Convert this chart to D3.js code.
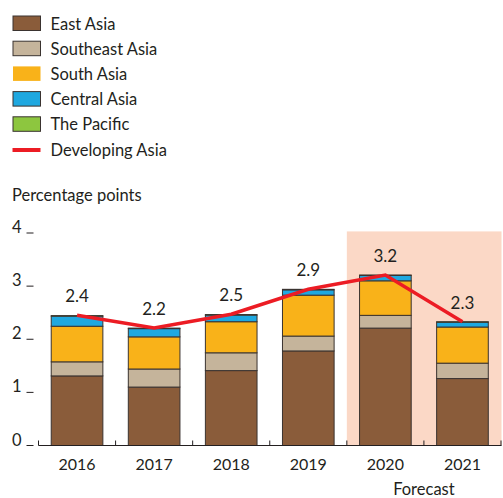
<!DOCTYPE html>
<html>
<head>
<meta charset="utf-8">
<script src="https://cdn.jsdelivr.net/npm/d3@7"></script>
<style>
  body { margin: 0; background: #fff; }
  svg text { font-family: Lato, "Open Sans", sans-serif; fill: #231f20; }
</style>
</head>
<body>
<div id="chart"></div>
<script>
const years = ["2016", "2017", "2018", "2019", "2020", "2021"];
const eastAsia = [1.31, 1.10, 1.41, 1.78, 2.21, 1.26];
const southeastAsia = [0.265, 0.34, 0.335, 0.28, 0.24, 0.29];
const southAsia = [0.67, 0.605, 0.585, 0.77, 0.65, 0.68];
const centralAsia = [0.19, 0.155, 0.125, 0.10, 0.10, 0.09];
const pacific = [0.01, 0.01, 0.01, 0.01, 0.01, 0.01];
const developingAsia = [2.45, 2.21, 2.47, 2.94, 3.21, 2.33];
const lineLabels = ["2.4", "2.2", "2.5", "2.9", "3.2", "2.3"];
const yTicks = [0, 1, 2, 3, 4];
const forecastYears = ["2020", "2021"];

const series = [
  { name: "East Asia", values: eastAsia, color: "#8a5c3a" },
  { name: "Southeast Asia", values: southeastAsia, color: "#c5b49b" },
  { name: "South Asia", values: southAsia, color: "#f9b219" },
  { name: "Central Asia", values: centralAsia, color: "#1fa8e0" },
  { name: "The Pacific", values: pacific, color: "#8dc63f" }
];
const lineColor = "#ec1c24";

const width = 503, height = 498;
const svg = d3.select("#chart").append("svg")
  .attr("width", width).attr("height", height);

const x = d3.scaleBand().domain(years).range([38.5, 501])
  .paddingInner(0.33).paddingOuter(0.165);
const y = d3.scaleLinear().domain([0, 4]).range([445.5, 233]);
const step = x.step();
const gap = step * 0.33 / 2;

// forecast shading
svg.append("rect")
  .attr("x", x(forecastYears[0]) - gap)
  .attr("y", y(4.03))
  .attr("width", 501.5 - (x(forecastYears[0]) - gap))
  .attr("height", y(0) - y(4.03))
  .attr("fill", "#fbd8c6");

// stacked bars
const rows = years.map((yr, i) => {
  const r = { year: yr };
  series.forEach(s => r[s.name] = s.values[i]);
  return r;
});
const stack = d3.stack().keys(series.map(s => s.name))(rows);

svg.append("g").selectAll("g").data(stack).join("g")
  .attr("fill", (d, i) => series[i].color)
  .selectAll("rect").data(d => d).join("rect")
  .attr("x", d => x(d.data.year))
  .attr("y", d => y(d[1]))
  .attr("width", x.bandwidth())
  .attr("height", d => y(d[0]) - y(d[1]))
  .attr("stroke", "#3a3330")
  .attr("stroke-width", 1);

// x axis
svg.append("line")
  .attr("x1", 38.5).attr("x2", 501.5)
  .attr("y1", y(0)).attr("y2", y(0))
  .attr("stroke", "#231f20").attr("stroke-width", 1.2);
const bounds = years.map(yr => x(yr) - gap).concat([x(years[years.length - 1]) + x.bandwidth() + gap]);
svg.append("g").selectAll("line").data(bounds).join("line")
  .attr("x1", d => d).attr("x2", d => d)
  .attr("y1", y(0) - 5).attr("y2", y(0))
  .attr("stroke", "#231f20").attr("stroke-width", 1);

svg.append("g").selectAll("text").data(years).join("text")
  .attr("x", d => x(d) + x.bandwidth() / 2)
  .attr("y", 470)
  .attr("text-anchor", "middle")
  .attr("font-size", 16)
  .text(d => d);

svg.append("text")
  .attr("x", x(forecastYears[1]) - gap)
  .attr("y", 495)
  .attr("text-anchor", "middle")
  .attr("font-size", 16.5)
  .text("Forecast");

// y axis labels
const yg = svg.append("g");
yg.selectAll("text").data(yTicks).join("text")
  .attr("x", 12)
  .attr("y", d => y(d))
  .attr("font-size", 16.5)
  .text(d => d);
yg.selectAll("line").data(yTicks).join("line")
  .attr("x1", 26.5).attr("x2", 33.5)
  .attr("y1", d => y(d)).attr("y2", d => y(d))
  .attr("stroke", "#231f20").attr("stroke-width", 1);

svg.append("text")
  .attr("x", 12).attr("y", 201)
  .attr("font-size", 16.5)
  .text("Percentage points");

// Developing Asia line
const line = d3.line()
  .x((d, i) => x(years[i]) + x.bandwidth() / 2)
  .y(d => y(d));
svg.append("path")
  .datum(developingAsia)
  .attr("d", line)
  .attr("fill", "none")
  .attr("stroke", lineColor)
  .attr("stroke-width", 3.5);

svg.append("g").selectAll("text").data(developingAsia).join("text")
  .attr("x", (d, i) => x(years[i]) + x.bandwidth() / 2)
  .attr("y", d => y(d) - 13)
  .attr("text-anchor", "middle")
  .attr("font-size", 17)
  .text((d, i) => lineLabels[i]);

// legend
const legend = svg.append("g");
series.forEach((s, i) => {
  const ly = 16 + i * 25.2;
  legend.append("rect")
    .attr("x", 13).attr("y", ly)
    .attr("width", 27.5).attr("height", 14.5)
    .attr("fill", s.color)
    .attr("stroke", s.name === "South Asia" ? "none" : "#3a3330")
    .attr("stroke-width", 1);
  legend.append("text")
    .attr("x", 50.5).attr("y", ly + 13.5)
    .attr("font-size", 16.5)
    .text(s.name);
});
const lly = 16 + series.length * 25.2;
legend.append("line")
  .attr("x1", 12.5).attr("x2", 40.5)
  .attr("y1", lly + 8).attr("y2", lly + 8)
  .attr("stroke", lineColor).attr("stroke-width", 4);
legend.append("text")
  .attr("x", 50.5).attr("y", lly + 13.5)
  .attr("font-size", 16.5)
  .text("Developing Asia");
</script>
</body>
</html>
